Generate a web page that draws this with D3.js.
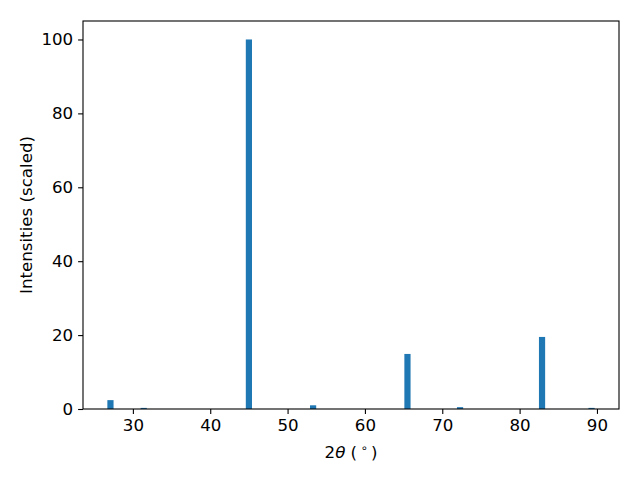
<!DOCTYPE html>
<html>
<head>
<meta charset="utf-8">
<script src="https://cdn.jsdelivr.net/npm/d3@7"></script>
<style>
  body { margin: 0; background: #fff; }
  svg text { font-family: "DejaVu Sans", sans-serif; fill: #000; }
</style>
</head>
<body>
<svg id="chart" width="640" height="480"></svg>
<script>
// peak positions (2theta, degrees) and scaled intensities
const angles = [27.1, 31.4, 45.0, 53.3, 65.5, 72.3, 82.9, 89.3];
const intensities = [2.4, 0.3, 100, 1.0, 14.9, 0.5, 19.5, 0.3];
const xTicks = [30, 40, 50, 60, 70, 80, 90];
const yTicks = [0, 20, 40, 60, 80, 100];

const barWidth = 0.8;
const margin = { top: 21, right: 21, bottom: 71, left: 83 };
const width = 640, height = 480;
const blue = "#1f77b4";
const fontSize = 16.67;

const svg = d3.select("#chart");

// matplotlib style auto limits: 5% margins
const lo = d3.min(angles) - barWidth / 2;
const hi = d3.max(angles) + barWidth / 2;
const pad = (hi - lo) * 0.05;

const xScale = d3.scaleLinear()
  .domain([lo - pad, hi + pad])
  .range([margin.left, width - margin.right]);

const yScale = d3.scaleLinear()
  .domain([0, d3.max(intensities) * 1.05])
  .range([height - margin.bottom, margin.top]);

const data = angles.map((a, i) => ({ angle: a, value: intensities[i] }));

svg.append("g")
  .selectAll("rect")
  .data(data)
  .join("rect")
    .attr("x", d => xScale(d.angle - barWidth / 2))
    .attr("width", d => xScale(d.angle + barWidth / 2) - xScale(d.angle - barWidth / 2))
    .attr("y", d => yScale(d.value))
    .attr("height", d => yScale(0) - yScale(d.value))
    .attr("fill", blue);

// axes
const bottomAxis = d3.axisBottom(xScale)
  .tickValues(xTicks)
  .tickSize(4.9)
  .tickPadding(4.9)
  .tickFormat(d3.format("d"));

const leftAxis = d3.axisLeft(yScale)
  .tickValues(yTicks)
  .tickSize(4.9)
  .tickPadding(4.9)
  .tickFormat(d3.format("d"));

const gx = svg.append("g")
  .attr("transform", `translate(0,${height - margin.bottom})`)
  .call(bottomAxis);
const gy = svg.append("g")
  .attr("transform", `translate(${margin.left},0)`)
  .call(leftAxis);

[gx, gy].forEach(g => {
  g.select(".domain").remove();
  g.selectAll("line").attr("stroke", "#000").attr("stroke-width", 1.1);
  g.selectAll("text")
    .style("font-family", "DejaVu Sans, sans-serif")
    .style("font-size", `${fontSize}px`);
});

// frame
svg.append("rect")
  .attr("x", margin.left)
  .attr("y", margin.top)
  .attr("width", width - margin.left - margin.right)
  .attr("height", height - margin.top - margin.bottom)
  .attr("fill", "none")
  .attr("stroke", "#000")
  .attr("stroke-width", 1.1);

// x label: 2θ ( ° )
const xl = svg.append("text")
  .attr("x", (margin.left + width - margin.right) / 2)
  .attr("y", 458)
  .attr("text-anchor", "middle")
  .style("font-size", `${fontSize}px`);
xl.append("tspan").text("2");
xl.append("tspan").style("font-style", "italic").text("θ");
xl.append("tspan").text(" (\u2009");
xl.append("tspan").attr("dy", -6).style("font-size", "11.5px").text("∘");
xl.append("tspan").attr("dy", 6).text("\u2009)");

// y label
svg.append("text")
  .attr("transform", `translate(32,${(margin.top + height - margin.bottom) / 2}) rotate(-90)`)
  .attr("text-anchor", "middle")
  .style("font-size", `${fontSize}px`)
  .text("Intensities (scaled)");
</script>
</body>
</html>
